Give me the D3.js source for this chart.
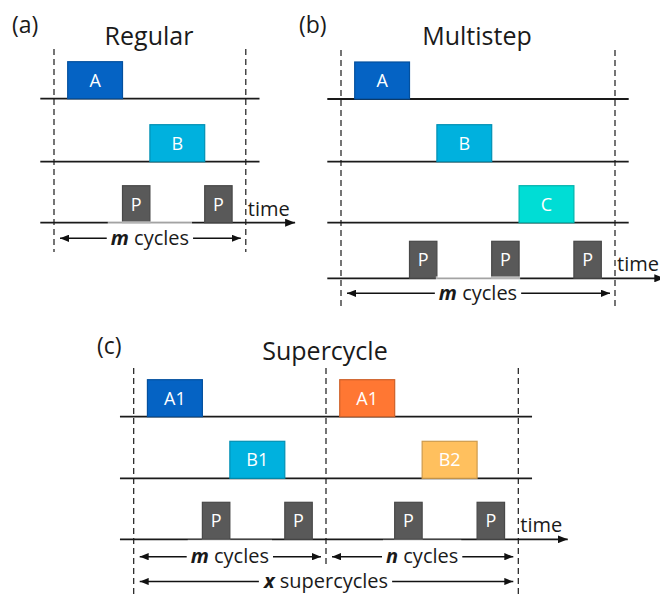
<!DOCTYPE html>
<html>
<head>
<meta charset="utf-8">
<script src="https://cdn.jsdelivr.net/npm/d3@7/dist/d3.min.js"></script>
<style>
  html, body { margin: 0; padding: 0; background: #fff; }
  svg { display: block; }
  text { font-family: "Open Sans", Lato, sans-serif; fill: #1a1a1a; }
</style>
</head>
<body>
<svg id="fig" width="660" height="594"></svg>
<script>
// Pulse timing in slot units: a precursor dose lasts 2 slots, a plasma step 1 slot.

// (a) Regular cycle
const regularLanes = ["A", "B", "P"];
const regularPulses = [
  { lane: "A", name: "A", start: 0.5, end: 2.5 },
  { lane: "P", name: "P", start: 2.5, end: 3.5 },
  { lane: "B", name: "B", start: 3.5, end: 5.5 },
  { lane: "P", name: "P", start: 5.5, end: 6.5 }
];
const regularBounds = [0, 7];
const regularSpans = [{ from: 0, to: 7, sym: "m", word: " cycles", row: 0 }];

// (b) Multistep cycle
const multistepLanes = ["A", "B", "C", "P"];
const multistepPulses = [
  { lane: "A", name: "A", start: 0.5, end: 2.5 },
  { lane: "P", name: "P", start: 2.5, end: 3.5 },
  { lane: "B", name: "B", start: 3.5, end: 5.5 },
  { lane: "P", name: "P", start: 5.5, end: 6.5 },
  { lane: "C", name: "C", start: 6.5, end: 8.5 },
  { lane: "P", name: "P", start: 8.5, end: 9.5 }
];
const multistepBounds = [0, 10];
const multistepSpans = [{ from: 0, to: 10, sym: "m", word: " cycles", row: 0 }];

// (c) Supercycle: two sub-cycles, the second one marked with sub = 1
const supercycleLanes = ["A", "B", "P"];
const supercyclePulses = [
  { lane: "A", name: "A1", sub: 0, start: 0.5, end: 2.5 },
  { lane: "P", name: "P", sub: 0, start: 2.5, end: 3.5 },
  { lane: "B", name: "B1", sub: 0, start: 3.5, end: 5.5 },
  { lane: "P", name: "P", sub: 0, start: 5.5, end: 6.5 },
  { lane: "A", name: "A1", sub: 1, start: 7.5, end: 9.5 },
  { lane: "P", name: "P", sub: 1, start: 9.5, end: 10.5 },
  { lane: "B", name: "B2", sub: 1, start: 10.5, end: 12.5 },
  { lane: "P", name: "P", sub: 1, start: 12.5, end: 13.5 }
];
const supercycleBounds = [0, 7, 14];
const supercycleSpans = [
  { from: 0, to: 7, sym: "m", word: " cycles", row: 0 },
  { from: 7, to: 14, sym: "n", word: " cycles", row: 0 },
  { from: 0, to: 14, sym: "x", word: " supercycles", row: 1 }
];

// Colours by pulse (second sub-cycle keys carry a prime)
const pulseFill = d3.scaleOrdinal()
  .domain(["A", "B", "C", "P", "A1", "B1", "A1'", "B2'", "P'"])
  .range(["#0563C4", "#00B1DE", "#00DDD5", "#595959", "#0563C4", "#00B1DE", "#FF7733", "#FFC05E", "#595959"]);
const pulseKey = p => p.sub ? p.name + "'" : p.name;

const svg = d3.select("#fig");
const defs = svg.append("defs");
function arrowMarker(id, len, half) {
  defs.append("marker")
    .attr("id", id)
    .attr("viewBox", `0 ${-half} ${len} ${2 * half}`)
    .attr("refX", len).attr("refY", 0)
    .attr("markerUnits", "userSpaceOnUse")
    .attr("markerWidth", len).attr("markerHeight", 2 * half)
    .attr("orient", "auto-start-reverse")
    .append("path")
    .attr("d", `M0,${-half}L${len},0L0,${half}Z`)
    .attr("fill", "#111");
}
arrowMarker("tip", 9, 3.6);
arrowMarker("timeTip", 10, 4);

const panels = [
  {
    tag: "(a)", tagX: 12, tagY: 33, title: "Regular", titleX: 149, titleY: 45,
    lanes: regularLanes, pulses: regularPulses, bounds: regularBounds, spans: regularSpans,
    xRange: [54, 245.8], laneY: [98.7, 161.7, 222.7],
    dashTop: 49, dashBottom: [252, 252], spanY: [238.3]
  },
  {
    tag: "(b)", tagX: 299, tagY: 33, title: "Multistep", titleX: 477, titleY: 45,
    lanes: multistepLanes, pulses: multistepPulses, bounds: multistepBounds, spans: multistepSpans,
    xRange: [341, 615], laneY: [99, 161.7, 222.7, 278.3],
    dashTop: 50, dashBottom: [307, 307], spanY: [293.3]
  },
  {
    tag: "(c)", tagX: 97, tagY: 354, title: "Supercycle", titleX: 325, titleY: 360,
    lanes: supercycleLanes, pulses: supercyclePulses, bounds: supercycleBounds, spans: supercycleSpans,
    xRange: [133.7, 518.3], laneY: [416.7, 478.3, 539.3],
    dashTop: 368, dashBottom: [594, 568, 594], spanY: [556.7, 581.5]
  }
];

const boxH = 37;

panels.forEach(pn => {
  const g = svg.append("g");
  const t0 = pn.bounds[0], t1 = pn.bounds[pn.bounds.length - 1];
  const x = d3.scaleLinear().domain([t0, t1]).range(pn.xRange);
  const y = d3.scaleOrdinal().domain(pn.lanes).range(pn.laneY);
  const lastLane = pn.lanes[pn.lanes.length - 1];

  // panel tag and title
  g.append("text").attr("x", pn.tagX).attr("y", pn.tagY)
    .attr("font-size", 23).text(pn.tag);
  g.append("text").attr("x", pn.titleX).attr("y", pn.titleY)
    .attr("text-anchor", "middle").attr("font-size", 25).text(pn.title);

  // lane baselines; the last one is the time axis
  g.selectAll("line.lane").data(pn.lanes).join("line")
    .attr("class", "lane")
    .attr("x1", x(t0 - 0.5))
    .attr("x2", d => d === lastLane ? x(t1 + 1.8) : x(t1 + 0.5))
    .attr("y1", d => y(d)).attr("y2", d => y(d))
    .attr("stroke", "#1a1a1a").attr("stroke-width", 1.8)
    .attr("marker-end", d => d === lastLane ? "url(#timeTip)" : null);

  g.append("text")
    .attr("x", x(t1) + 2).attr("y", y(lastLane) - 7)
    .attr("font-size", 20).text("time");

  // pulses
  const pulse = g.selectAll("g.pulse").data(pn.pulses).join("g").attr("class", "pulse");
  pulse.append("rect")
    .attr("x", d => x(d.start)).attr("y", d => y(d.lane) - boxH)
    .attr("width", d => x(d.end) - x(d.start)).attr("height", boxH)
    .attr("fill", d => pulseFill(pulseKey(d)))
    .attr("stroke", d => d3.color(pulseFill(pulseKey(d))).darker(0.6))
    .attr("stroke-width", 1.2);
  pulse.append("text")
    .attr("x", d => (x(d.start) + x(d.end)) / 2)
    .attr("y", d => y(d.lane) - boxH / 2 + 6.5)
    .attr("text-anchor", "middle").attr("font-size", 18)
    .style("fill", "#fff")
    .text(d => d.name);

  // cycle boundaries
  g.selectAll("line.bound").data(pn.bounds).join("line")
    .attr("class", "bound")
    .attr("x1", d => x(d)).attr("x2", d => x(d))
    .attr("y1", pn.dashTop).attr("y2", (d, i) => pn.dashBottom[i])
    .attr("stroke", "#1a1a1a").attr("stroke-width", 1.2)
    .attr("stroke-dasharray", "6,4");

  // span annotations with arrows on both ends
  pn.spans.forEach(s => {
    const yy = pn.spanY[s.row];
    const cx = (x(s.from) + x(s.to)) / 2;
    const lab = g.append("text").attr("x", cx).attr("y", yy + 6.5)
      .attr("text-anchor", "middle").attr("font-size", 20);
    lab.append("tspan").attr("font-weight", "bold").attr("font-style", "italic").text(s.sym);
    lab.append("tspan").text(s.word);
    const bb = lab.node().getBBox();
    g.insert("rect", () => lab.node())
      .attr("x", bb.x - 3).attr("y", yy - 17)
      .attr("width", bb.width + 6).attr("height", 28)
      .attr("fill", "#fff").attr("fill-opacity", 0.6);
    const xa = x(s.from) + 6, xb = x(s.to) - 5;
    g.append("line").attr("x1", bb.x - 4).attr("x2", xa)
      .attr("y1", yy).attr("y2", yy)
      .attr("stroke", "#111").attr("stroke-width", 1.5).attr("marker-end", "url(#tip)");
    g.append("line").attr("x1", bb.x + bb.width + 4).attr("x2", xb)
      .attr("y1", yy).attr("y2", yy)
      .attr("stroke", "#111").attr("stroke-width", 1.5).attr("marker-end", "url(#tip)");
  });
});
</script>
</body>
</html>
